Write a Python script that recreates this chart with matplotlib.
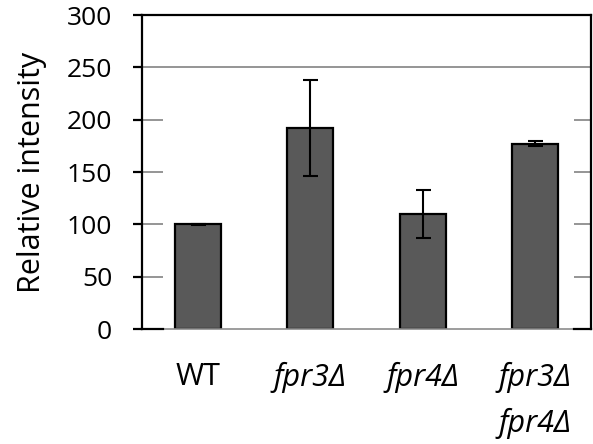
import matplotlib
matplotlib.use("Agg")
import matplotlib.pyplot as plt
from matplotlib.patches import Rectangle

plt.rcParams['font.family'] = ['Open Sans', 'DejaVu Sans']

# ----- data -----
strains = ["WT", "fpr3Δ", "fpr4Δ", "fpr3Δ\nfpr4Δ"]
intensity = [100, 192, 110, 177]
errors = [0.5, 46, 23, 2.5]
y_ticks = [0, 50, 100, 150, 200, 250, 300]

fig = plt.figure(figsize=(5.93, 4.44), dpi=100)
ax = fig.add_axes([0.2395, 0.259, 0.757, 0.707])

ax.set_xlim(-0.5, 3.5)
ax.set_ylim(0, 300)

# gridlines (only stubs show through below 250)
for v in y_ticks[1:-1]:
    ax.axhline(v, color='#8c8c8c', lw=1.3, zorder=1)
ax.add_patch(Rectangle((-0.313, 0), 3.661, 235, facecolor='white',
                       edgecolor='none', zorder=1.5))
# black stubs at zero
ax.plot([-0.5, -0.313], [0, 0], color='black', lw=1.6, zorder=3, clip_on=False)
ax.plot([3.348, 3.5], [0, 0], color='black', lw=1.6, zorder=3, clip_on=False)

x = range(len(strains))
ax.bar(x, intensity, width=0.41, color='#595959', edgecolor='black',
       linewidth=1.6, zorder=2)
ax.errorbar(x, intensity, yerr=errors, fmt='none', ecolor='black',
            elinewidth=1.5, capsize=5.4, capthick=1.5, zorder=4)

for s in ['left', 'top', 'right']:
    ax.spines[s].set_color('black')
    ax.spines[s].set_linewidth(1.6)
ax.spines['bottom'].set_color('#8c8c8c')
ax.spines['bottom'].set_linewidth(1.2)

ax.set_yticks(y_ticks)
ax.tick_params(axis='y', direction='out', length=6.5, width=1.6,
               labelsize=19, pad=15, colors='black')
ax.set_xticks(list(x))
ax.set_xticklabels(strains, fontsize=22, va='top')
for lbl in ax.get_xticklabels():
    lbl.set_linespacing(1.6)
for lbl in ax.get_xticklabels()[1:]:
    lbl.set_style('italic')
ax.tick_params(axis='x', length=0, pad=24)

ax.set_ylabel("Relative intensity", fontsize=22)
ax.yaxis.set_label_coords(-0.212, 0.5)

fig.savefig("out.png", dpi=100)
